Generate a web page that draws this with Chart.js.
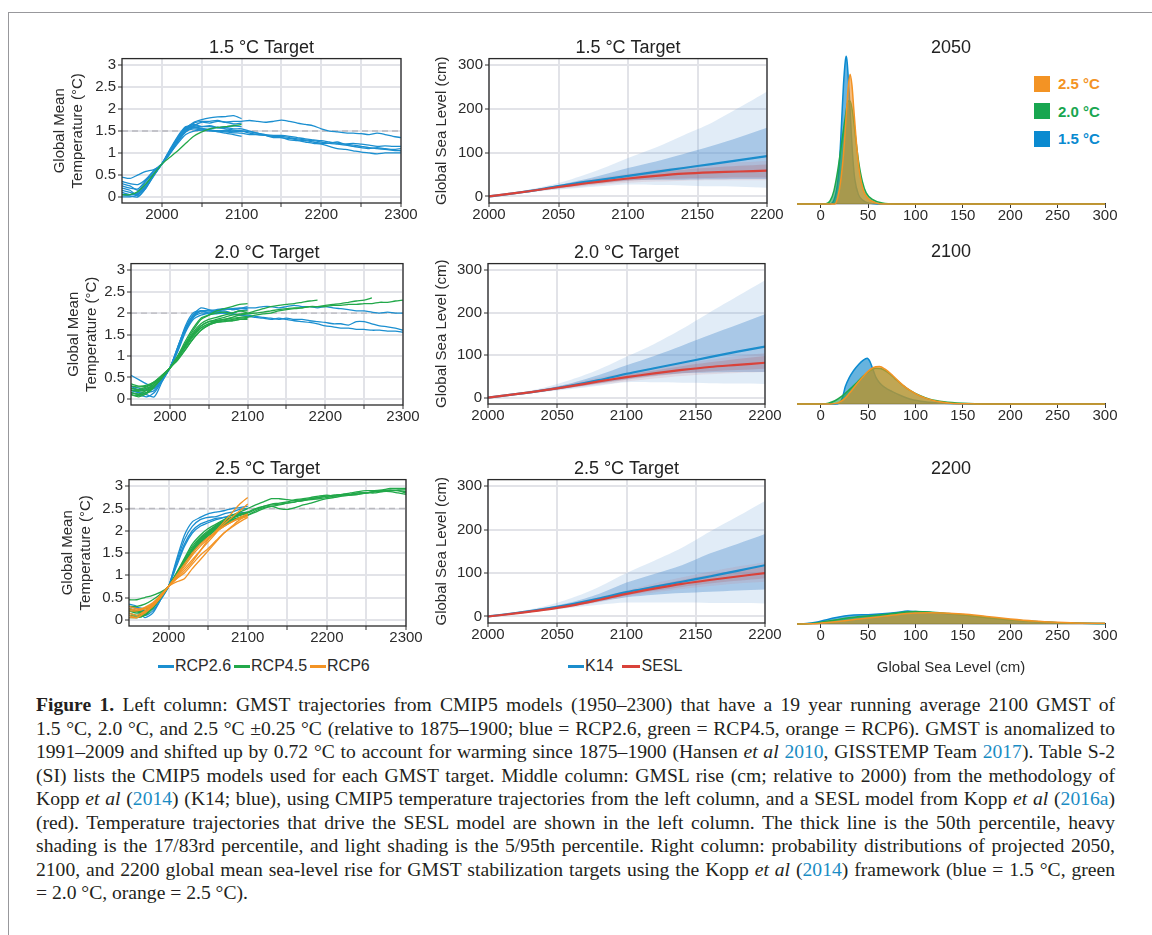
<!DOCTYPE html>
<html>
<head>
<meta charset="utf-8">
<script src="https://cdn.jsdelivr.net/npm/chart.js@4.4.0/dist/chart.umd.min.js"></script>
<style>
body { margin:0; background:#fff; width:1152px; height:935px; overflow:hidden; position:relative; font-family:"Liberation Sans", Arial, sans-serif; }
canvas { position:absolute; }
.frame { position:absolute; left:8px; top:12px; width:1300px; height:1000px; border-top:1.3px solid #98989c; border-left:1.3px solid #98989c; }
.leg { position:absolute; display:flex; align-items:center; font-size:16px; color:#2b2b2b; white-space:nowrap; }
.leg .ln { display:inline-block; width:16px; height:3px; margin-right:1px; }
.leg .it { margin-right:3px; }
.dleg { position:absolute; left:1034px; font-size:15px; font-weight:bold; }
.dleg div { height:27.5px; display:flex; align-items:center; }
.dleg .sq { display:inline-block; width:16px; height:16px; margin-right:8px; }
.cap { position:absolute; left:36px; top:693px; width:1079px; font-family:"Liberation Serif", "Times New Roman", serif; font-size:19.6px; line-height:23.5px; color:#231f20; }
.cap div { text-align:justify; text-align-last:justify; white-space:nowrap; }
.cap div.last { text-align:left; text-align-last:left; }
.cap a { color:#1a8cc4; text-decoration:none; }
</style>
</head>
<body>
<div class="frame"></div>

<div class="leg" style="left:158px;top:657px">
  <span class="ln" style="background:#1b8fd0"></span><span class="it">RCP2.6</span>
  <span class="ln" style="background:#22a84a"></span><span class="it">RCP4.5</span>
  <span class="ln" style="background:#f39324"></span><span class="it">RCP6</span>
</div>
<div class="leg" style="left:568px;top:657px">
  <span class="ln" style="background:#1b8dcc"></span><span class="it" style="margin-right:9px">K14</span>
  <span class="ln" style="background:#d9423a;width:18px"></span><span class="it">SESL</span>
</div>
<div class="dleg" style="top:70px">
  <div style="color:#f39324"><span class="sq" style="background:#f39324"></span>2.5 °C</div>
  <div style="color:#18a650"><span class="sq" style="background:#18a650"></span>2.0 °C</div>
  <div style="color:#0a8ad0"><span class="sq" style="background:#0a8ad0"></span>1.5 °C</div>
</div>

<div class="cap">
  <div><b>Figure 1.</b> Left column: GMST trajectories from CMIP5 models (1950–2300) that have a 19 year running average 2100 GMST of</div>
  <div>1.5 °C, 2.0 °C, and 2.5 °C ±0.25 °C (relative to 1875–1900; blue = RCP2.6, green = RCP4.5, orange = RCP6). GMST is anomalized to</div>
  <div>1991–2009 and shifted up by 0.72 °C to account for warming since 1875–1900 (Hansen <i>et al</i> <a>2010</a>, GISSTEMP Team <a>2017</a>). Table S-2</div>
  <div>(SI) lists the CMIP5 models used for each GMST target. Middle column: GMSL rise (cm; relative to 2000) from the methodology of</div>
  <div>Kopp <i>et al</i> (<a>2014</a>) (K14; blue), using CMIP5 temperature trajectories from the left column, and a SESL model from Kopp <i>et al</i> (<a>2016a</a>)</div>
  <div>(red). Temperature trajectories that drive the SESL model are shown in the left column. The thick line is the 50th percentile, heavy</div>
  <div>shading is the 17/83rd percentile, and light shading is the 5/95th percentile. Right column: probability distributions of projected 2050,</div>
  <div>2100, and 2200 global mean sea-level rise for GMST stabilization targets using the Kopp <i>et al</i> (<a>2014</a>) framework (blue = 1.5 °C, green</div>
  <div class="last">= 2.0 °C, orange = 2.5 °C).</div>
</div>

<script>
// ---- data ----
const decades = [1950,1960,1970,1980,1990,2000,2010,2020,2030,2040,2050,2060,2070,2080,2090,2100,
  2110,2120,2130,2140,2150,2160,2170,2180,2190,2200,2210,2220,2230,2240,2250,2260,2270,2280,2290,2300];
const targets = [1.5, 2.0, 2.5];
const tempXTicks = [2000,2050,2100,2150,2200,2250,2300];
const tempYTicks = [0,0.5,1,1.5,2,2.5,3];
const slrXTicks = [2000,2050,2100,2150,2200];
const slrYTicks = [0,100,200,300];
const densTicks = [0,50,100,150,200,250,300];

// 1.5 °C target trajectories (values every 10 years from 1950)
const t15_rcp26 = [
  [0.45,0.42,0.5,0.58,0.62,0.75,1.0,1.3,1.55,1.7,1.76,1.8,1.82,1.83,1.85,1.78],
  [0.3,0.25,0.15,0.35,0.55,0.75,1.02,1.3,1.52,1.62,1.7,1.68,1.72,1.7,1.66,1.68],
  [0.05,0.05,0.08,0.25,0.5,0.75,1.05,1.35,1.58,1.65,1.6,1.62,1.58,1.55,1.52,1.5],
  [0.2,0.15,0.02,0.2,0.48,0.75,1.08,1.38,1.6,1.6,1.56,1.52,1.48,1.45,1.42,1.38],
  [0.1,0.05,0.1,0.28,0.5,0.75,0.98,1.22,1.42,1.5,1.52,1.55,1.58,1.6,1.62,1.6],
  [0.25,0.2,0.18,0.38,0.58,0.75,1.0,1.28,1.5,1.68,1.72,1.72,1.74,1.7,1.72,1.72,
   1.74,1.72,1.7,1.72,1.75,1.72,1.68,1.65,1.62,1.55,1.5,1.48,1.46,1.45,1.44,1.42,1.45,1.42,1.38,1.35],
  [0.0,0.0,0.05,0.22,0.5,0.75,1.05,1.35,1.55,1.58,1.55,1.52,1.5,1.5,1.48,1.5,
   1.45,1.42,1.4,1.38,1.35,1.33,1.3,1.28,1.25,1.22,1.22,1.25,1.2,1.22,1.2,1.18,1.15,1.16,1.15,1.15],
  [0.15,0.1,0.05,0.25,0.52,0.75,1.0,1.3,1.5,1.55,1.52,1.5,1.5,1.48,1.46,1.45,
   1.42,1.42,1.4,1.38,1.38,1.35,1.32,1.3,1.28,1.25,1.22,1.2,1.18,1.15,1.12,1.1,1.12,1.1,1.08,1.1],
  [0.05,0.02,0.0,0.2,0.5,0.75,1.05,1.35,1.58,1.62,1.6,1.6,1.58,1.58,1.55,1.55,
   1.5,1.45,1.4,1.35,1.35,1.3,1.28,1.25,1.22,1.2,1.15,1.1,1.08,1.05,1.02,1.0,0.98,1.0,1.0,1.0],
  [0.35,0.3,0.28,0.4,0.6,0.75,0.98,1.25,1.48,1.58,1.55,1.52,1.5,1.52,1.5,1.5,
   1.48,1.45,1.42,1.4,1.4,1.38,1.35,1.32,1.3,1.28,1.25,1.22,1.2,1.18,1.15,1.12,1.1,1.08,1.06,1.05]
];
const t15_rcp45 = [
  [0.05,0.05,0.12,0.3,0.52,0.75,0.9,1.05,1.22,1.38,1.48,1.55,1.58,1.6,1.62,1.65]
];

// 2.0 °C target
const t20_rcp26 = [
  [0.55,0.45,0.35,0.3,0.5,0.72,1.2,1.65,1.95,2.12,2.08,2.05,2.08,2.1,2.12,2.1],
  [0.2,0.15,0.1,0.05,0.4,0.72,1.15,1.6,1.9,2.05,2.0,2.02,2.05,2.0,2.05,2.08],
  [0.3,0.2,0.2,0.25,0.45,0.72,1.1,1.55,1.85,1.95,2.0,2.05,2.1,2.08,2.1,2.15],
  [0.15,0.1,0.05,0.15,0.42,0.72,1.18,1.7,2.0,2.05,2.0,1.98,2.0,1.98,1.95,2.0],
  [0.25,0.2,0.25,0.3,0.5,0.72,1.12,1.6,1.9,2.05,2.05,2.08,2.1,2.08,2.1,2.12,
   2.12,2.15,2.15,2.12,2.15,2.18,2.15,2.15,2.12,2.15,2.12,2.1,2.08,2.05,2.05,2.02,2.0,2.02,2.0,2.0],
  [0.3,0.25,0.2,0.25,0.45,0.72,1.15,1.6,1.9,2.0,1.98,2.0,2.02,1.98,1.95,1.95,
   1.92,1.9,1.88,1.85,1.88,1.85,1.85,1.82,1.8,1.78,1.75,1.75,1.72,1.8,1.8,1.75,1.7,1.68,1.65,1.6],
  [0.2,0.15,0.15,0.2,0.45,0.72,1.2,1.65,1.95,2.05,2.05,2.02,2.0,1.98,1.95,1.92,
   1.9,1.88,1.85,1.88,1.85,1.82,1.8,1.78,1.75,1.7,1.68,1.65,1.65,1.62,1.62,1.6,1.6,1.58,1.58,1.55]
];
const t20_rcp45 = [
  [0.3,0.28,0.3,0.4,0.55,0.72,0.95,1.25,1.55,1.75,1.85,1.9,1.95,2.0,2.05,2.0],
  [0.2,0.2,0.25,0.35,0.55,0.72,1.0,1.3,1.6,1.85,1.95,2.05,2.1,2.15,2.2,2.22],
  [0.15,0.12,0.2,0.3,0.5,0.72,0.95,1.2,1.45,1.65,1.75,1.8,1.85,1.88,1.9,1.92],
  [0.1,0.08,0.15,0.3,0.5,0.72,0.98,1.28,1.52,1.7,1.8,1.82,1.85,1.82,1.85,1.88],
  [0.25,0.22,0.28,0.38,0.52,0.72,0.92,1.15,1.4,1.6,1.72,1.78,1.8,1.82,1.85,1.85],
  [0.35,0.3,0.32,0.4,0.55,0.72,1.0,1.35,1.65,1.88,1.95,2.0,2.02,2.0,2.05,2.05],
  [0.15,0.1,0.15,0.3,0.5,0.72,0.95,1.25,1.5,1.7,1.8,1.85,1.9,1.95,1.98,2.0,
   2.05,2.1,2.15,2.18,2.2,2.22,2.25,2.28,2.3],
  [0.2,0.18,0.22,0.35,0.52,0.72,0.95,1.22,1.48,1.65,1.75,1.82,1.85,1.9,1.95,1.98,
   2.0,2.02,2.05,2.08,2.1,2.12,2.12,2.15,2.15,2.18,2.2,2.22,2.25,2.28,2.3,2.35],
  [0.1,0.05,0.12,0.28,0.5,0.72,0.9,1.15,1.4,1.6,1.72,1.78,1.82,1.85,1.88,1.9,
   1.95,1.98,2.0,2.05,2.08,2.1,2.12,2.15,2.15,2.15,2.18,2.18,2.2,2.2,2.22,2.22,2.25,2.25,2.28,2.3]
];

// 2.5 °C target
const t25_rcp26 = [
  [0.35,0.3,0.1,0.2,0.45,0.75,1.35,1.9,2.2,2.3,2.38,2.42,2.45,2.5,2.52,2.55],
  [0.3,0.25,0.2,0.25,0.5,0.75,1.3,1.8,2.1,2.25,2.3,2.32,2.38,2.42,2.48,2.5],
  [0.25,0.2,0.05,0.15,0.45,0.75,1.25,1.7,2.0,2.15,2.22,2.28,2.3,2.35,2.4,2.42],
  [0.3,0.28,0.25,0.3,0.5,0.75,1.2,1.65,1.95,2.1,2.18,2.25,2.3,2.35,2.38,2.4]
];
const t25_rcp45 = [
  [0.45,0.45,0.5,0.55,0.62,0.75,1.0,1.3,1.6,1.8,1.95,2.1,2.2,2.3,2.35,2.4],
  [0.1,0.05,0.1,0.3,0.5,0.75,1.05,1.35,1.65,1.85,2.0,2.12,2.22,2.3,2.35,2.38],
  [0.05,0.05,0.1,0.25,0.5,0.75,1.0,1.25,1.5,1.72,1.9,2.05,2.15,2.25,2.3,2.35],
  [0.2,0.15,0.2,0.3,0.5,0.75,1.02,1.32,1.58,1.8,1.95,2.08,2.18,2.28,2.35,2.42],
  [0.3,0.3,0.35,0.45,0.58,0.75,1.05,1.38,1.7,1.9,2.05,2.15,2.25,2.35,2.42,2.5,
   2.58,2.65,2.72,2.72,2.7,2.68,2.7,2.72,2.75,2.78,2.8,2.82,2.82,2.85,2.85,2.88,2.9,2.9,2.92,2.92],
  [0.25,0.2,0.25,0.35,0.52,0.75,1.0,1.3,1.6,1.82,1.98,2.12,2.22,2.3,2.38,2.42,
   2.5,2.55,2.58,2.6,2.62,2.65,2.68,2.72,2.75,2.78,2.8,2.82,2.85,2.88,2.9,2.9,2.92,2.95,2.95,2.95],
  [0.1,0.08,0.12,0.28,0.5,0.75,1.02,1.3,1.55,1.75,1.92,2.05,2.15,2.25,2.3,2.35,
   2.45,2.52,2.55,2.5,2.48,2.52,2.58,2.62,2.68,2.72,2.75,2.78,2.8,2.82,2.85,2.88,2.88,2.9,2.9,2.88],
  [0.15,0.1,0.15,0.3,0.52,0.75,1.0,1.28,1.55,1.78,1.95,2.08,2.18,2.28,2.35,2.4,
   2.48,2.55,2.6,2.62,2.65,2.7,2.72,2.75,2.78,2.8,2.78,2.8,2.82,2.85,2.85,2.88,2.9,2.92,2.9,2.85],
  [0.2,0.18,0.2,0.32,0.52,0.75,1.0,1.28,1.52,1.72,1.88,2.02,2.12,2.22,2.28,2.35,
   2.42,2.5,2.55,2.58,2.62,2.65,2.68,2.7,2.72,2.75,2.78,2.8,2.8,2.82,2.85,2.85,2.88,2.88,2.85,2.82]
];
const t25_rcp60 = [
  [0.1,0.05,0.15,0.3,0.52,0.75,0.92,1.1,1.3,1.55,1.8,2.0,2.2,2.4,2.6,2.75],
  [0.2,0.2,0.25,0.35,0.55,0.75,0.85,0.92,1.15,1.35,1.55,1.75,1.95,2.1,2.25,2.35],
  [0.25,0.22,0.28,0.38,0.55,0.75,0.95,1.15,1.35,1.55,1.75,1.95,2.15,2.3,2.45,2.6],
  [0.15,0.1,0.2,0.32,0.52,0.75,0.98,1.2,1.45,1.65,1.82,1.98,2.1,2.2,2.28,2.32],
  [0.3,0.25,0.25,0.35,0.55,0.75,0.92,1.05,1.25,1.45,1.6,1.78,1.95,2.08,2.2,2.3],
  [0.05,0.05,0.18,0.3,0.5,0.75,1.0,1.25,1.5,1.7,1.85,1.98,2.1,2.2,2.3,2.38]
];

// sea level (cm), every 20 years 2000-2200
const slrYears = [2000,2020,2040,2060,2080,2100,2120,2140,2160,2180,2200];
const k14_15_p50 = [0,8,18,29,38,47,56,65,74,83,92];
const k14_15_p17 = [0,7,15,24,31,37,38,38,39,40,40];
const k14_15_p83 = [0,9,20,33,48,65,80,97,115,135,157];
const k14_15_p05 = [0,6,13,18,23,27,26,25,23,22,20];
const k14_15_p95 = [0,10,23,40,62,88,112,140,168,203,240];
const sesl_15_p50 = [0,8,17,26,34,41,47,52,55,57,59];
const sesl_15_p17 = [0,7,15,22,29,35,39,41,42,43,43];
const sesl_15_p83 = [0,9,19,29,39,47,55,61,66,70,73];
const sesl_15_p05 = [0,6,14,20,26,31,34,36,37,37,37];
const sesl_15_p95 = [0,10,21,32,43,52,61,68,74,78,81];

const k14_20_p50 = [0,8,17,28,41,56,69,82,95,108,120];
const k14_20_p17 = [0,7,15,24,34,44,52,57,59,60,60];
const k14_20_p83 = [0,9,20,34,53,76,98,122,147,171,196];
const k14_20_p05 = [0,6,13,20,28,36,36,35,34,33,32];
const k14_20_p95 = [0,10,23,42,66,96,126,161,200,238,276];
const sesl_20_p50 = [0,8,17,27,38,48,57,65,72,77,82];
const sesl_20_p17 = [0,7,15,24,33,42,50,57,62,65,68];
const sesl_20_p83 = [0,9,19,30,43,54,64,74,83,91,98];
const sesl_20_p05 = [0,6,14,22,30,38,45,51,55,58,60];
const sesl_20_p95 = [0,10,21,33,47,59,70,80,89,98,105];

const k14_25_p50 = [0,8,17,28,41,56,68,80,92,105,118];
const k14_25_p17 = [0,7,15,24,34,44,50,54,57,60,62];
const k14_25_p83 = [0,9,20,33,52,78,98,118,145,167,190];
const k14_25_p05 = [0,6,13,20,27,32,32,32,31,31,30];
const k14_25_p95 = [0,10,23,42,68,100,128,158,195,230,266];
const sesl_25_p50 = [0,7,15,25,38,52,64,75,84,92,100];
const sesl_25_p17 = [0,6,14,23,35,48,59,68,76,82,88];
const sesl_25_p83 = [0,8,17,28,42,57,71,84,96,106,115];
const sesl_25_p05 = [0,6,13,21,33,45,55,63,70,76,80];
const sesl_25_p95 = [0,9,18,30,45,60,76,90,103,115,125];

// probability density of GMSL (per cm), [cm, density]
const d2050_15 = [[-25,0],[10,0],[15,0.003],[18,0.01],[20,0.02],[22,0.036],[24,0.053],[26,0.064],[27,0.066],[28,0.063],[30,0.05],[32,0.034],[34,0.02],[36,0.011],[40,0.004],[45,0.0015],[50,0.0005],[60,0],[300,0]];
const d2050_20 = [[-25,0],[5,0],[10,0.0015],[14,0.006],[18,0.015],[22,0.027],[26,0.039],[29,0.046],[31,0.046],[34,0.04],[37,0.029],[40,0.019],[44,0.01],[48,0.005],[55,0.002],[65,0.0004],[80,0],[300,0]];
const d2050_25 = [[-25,0],[15,0],[18,0.003],[21,0.01],[24,0.022],[27,0.04],[29,0.052],[31,0.058],[33,0.053],[35,0.042],[38,0.026],[41,0.014],[45,0.006],[50,0.0025],[58,0.0005],[65,0],[300,0]];
const d2100_15 = [[-25,0],[15,0],[20,0.0005],[23,0.003],[26,0.008],[30,0.012],[35,0.0155],[40,0.0182],[45,0.0202],[49,0.021],[52,0.0195],[55,0.016],[58,0.0125],[62,0.0098],[68,0.0075],[75,0.0058],[85,0.0038],[95,0.0022],[110,0.001],[130,0.0003],[160,0],[300,0]];
const d2100_20 = [[-25,0],[0,0],[8,0.0004],[15,0.0015],[22,0.0035],[30,0.0065],[38,0.0098],[45,0.0128],[52,0.0152],[58,0.0164],[63,0.0163],[70,0.0148],[78,0.0118],[86,0.0088],[95,0.006],[105,0.0038],[115,0.0022],[130,0.001],[150,0.0003],[175,0],[300,0]];
const d2100_25 = [[-25,0],[10,0],[18,0.0005],[24,0.002],[30,0.0048],[38,0.0092],[45,0.0128],[52,0.0158],[58,0.0171],[62,0.0172],[68,0.016],[75,0.0135],[82,0.0105],[90,0.0075],[100,0.0048],[110,0.0028],[122,0.0013],[137,0.0004],[155,0.0001],[175,0],[300,0]];
const d2200_15 = [[-25,0],[-15,0.0002],[-5,0.0008],[5,0.0018],[15,0.0028],[25,0.0036],[35,0.004],[50,0.0042],[65,0.0046],[80,0.0052],[92,0.0058],[100,0.0056],[115,0.0052],[135,0.0045],[155,0.0038],[180,0.0026],[200,0.0018],[225,0.0011],[250,0.0006],[275,0.0003],[300,0.0002]];
const d2200_20 = [[-25,0],[-10,0.0002],[0,0.0008],[15,0.0018],[30,0.0028],[50,0.0036],[70,0.0044],[90,0.0054],[100,0.0056],[115,0.0054],[135,0.0047],[155,0.0039],[180,0.0027],[200,0.0019],[225,0.0011],[250,0.0006],[275,0.0003],[300,0.0002]];
const d2200_25 = [[-25,0],[-10,0.0001],[0,0.0004],[20,0.0012],[40,0.0022],[60,0.0032],[80,0.0042],[100,0.0049],[115,0.0051],[130,0.005],[150,0.0045],[175,0.0034],[200,0.0023],[225,0.0014],[250,0.0008],[275,0.0004],[300,0.0003]];

// ---- drawing ----
const FONT = '"Liberation Sans", Arial, sans-serif';
Chart.defaults.font.family = FONT;
Chart.defaults.color = '#2b2b2b';

const C26 = '#1b8fd0', C45 = '#22a84a', C60 = '#f39324';
const GRID = '#e2e3e8';

const boxPlugin = {
  id: 'box',
  afterDatasetsDraw(ch) {
    const a = ch.chartArea, c = ch.ctx;
    c.save();
    c.strokeStyle = '#2a2a2a';
    c.lineWidth = 1.3;
    c.strokeRect(a.left, a.top, a.right - a.left, a.bottom - a.top);
    c.restore();
  }
};

function mkCanvas(p) {
  const top = Math.round(p.titleY - 10.8);
  p.topH = p.T - top;
  const c = document.createElement('canvas');
  c.width = Math.round(p.R - p.L + p.yW + p.padR);
  c.height = Math.round(p.topH + p.B - p.T + p.botH);
  c.style.left = (p.L - p.yW) + 'px';
  c.style.top = top + 'px';
  document.body.appendChild(c);
  return c;
}

function baseOpts(p, title) {
  return {
    responsive: false, animation: false, devicePixelRatio: 1,
    layout: { padding: { left: 0, right: p.padR, top: 0, bottom: 0 } },
    plugins: {
      legend: { display: false }, tooltip: { enabled: false },
      title: { display: true, text: title, fullSize: false, color: '#222',
               font: { size: 18, weight: 'normal' }, padding: { top: 0, bottom: p.topH - 21.6 } }
    }
  };
}

function xScale(p, min, max, list, labelFn) {
  return {
    type: 'linear', min: min, max: max,
    afterBuildTicks: s => { s.ticks = list.map(v => ({ value: v })); },
    afterFit: s => { s.height = p.botH; s.paddingLeft = 0; s.paddingRight = 0; },
    ticks: { autoSkip: false, maxRotation: 0, padding: -1, font: { size: 15 }, color: '#2b2b2b',
             callback: labelFn },
    grid: { color: GRID, lineWidth: 2, tickColor: '#333', tickLength: 4, tickWidth: 1 },
    border: { display: false }
  };
}

function yScale(p, min, max, list, title) {
  return {
    min: min, max: max,
    afterBuildTicks: s => { s.ticks = list.map(v => ({ value: v })); },
    afterFit: s => { s.width = p.yW; s.paddingTop = 0; s.paddingBottom = 0; },
    title: { display: true, text: title, color: '#2b2b2b', font: { size: 15, lineHeight: 1.25 },
             padding: { top: 2, bottom: 0 } },
    ticks: { padding: 2, font: { size: 15 }, color: '#2b2b2b', callback: v => String(v) },
    grid: { color: GRID, lineWidth: 2, tickColor: '#333', tickLength: 4, tickWidth: 1 },
    border: { display: false }
  };
}

function line(vals, color) {
  return {
    data: vals.map((v, i) => ({ x: decades[i], y: v })),
    borderColor: color, borderWidth: 1.3, pointRadius: 0, tension: 0.25, fill: false
  };
}

const posTemp = [
  { L: 122, T: 63, R: 401, B: 203, titleY: 48, yW: 74, padR: 25, botH: 28 },
  { L: 131, T: 272, R: 403, B: 405, titleY: 253, yW: 69, padR: 25, botH: 28 },
  { L: 129, T: 488, R: 406, B: 626, titleY: 469, yW: 73, padR: 20, botH: 28 }
];
const posSlr = [
  { L: 489, T: 66, R: 767, B: 203, titleY: 48, yW: 59, padR: 20, botH: 28 },
  { L: 488, T: 267, R: 765, B: 404, titleY: 253, yW: 58, padR: 20, botH: 28 },
  { L: 488, T: 485, R: 765, B: 623, titleY: 469, yW: 58, padR: 20, botH: 28 }
];
const posDens = [
  { L: 797, T: 64, R: 1105, B: 204, titleY: 48, yW: 0, padR: 20, botH: 28 },
  { L: 797, T: 264, R: 1105, B: 404, titleY: 252, yW: 0, padR: 20, botH: 28 },
  { L: 797, T: 484, R: 1105, B: 624, titleY: 469, yW: 0, padR: 20, botH: 55 }
];

// left column
const tempSets = [
  { rcp26: t15_rcp26, rcp45: t15_rcp45, rcp60: [] },
  { rcp26: t20_rcp26, rcp45: t20_rcp45, rcp60: [] },
  { rcp26: t25_rcp26, rcp45: t25_rcp45, rcp60: t25_rcp60 }
];
tempSets.forEach((s, k) => {
  const p = posTemp[k];
  const ds = [];
  s.rcp60.forEach(v => ds.push(line(v, C60)));
  s.rcp45.forEach(v => ds.push(line(v, C45)));
  s.rcp26.forEach(v => ds.push(line(v, C26)));
  ds.push({ data: [{ x: 1950, y: targets[k] }, { x: 2300, y: targets[k] }], borderColor: '#b9b9be',
            borderWidth: 1.3, borderDash: [6, 4], pointRadius: 0 });
  const o = baseOpts(p, targets[k].toFixed(1) + ' °C Target');
  o.plugins.title.padding.left = 12;
  o.scales = {
    x: xScale(p, 1950, 2300, tempXTicks, v => (v % 100 === 0 ? String(v) : '')),
    y: yScale(p, -0.14, 3.15, tempYTicks, ['Global Mean', 'Temperature (°C)'])
  };
  new Chart(mkCanvas(p), { type: 'line', data: { datasets: ds }, options: o, plugins: [boxPlugin] });
});

// middle column
const slrSets = [
  [k14_15_p50, k14_15_p17, k14_15_p83, k14_15_p05, k14_15_p95, sesl_15_p50, sesl_15_p17, sesl_15_p83, sesl_15_p05, sesl_15_p95],
  [k14_20_p50, k14_20_p17, k14_20_p83, k14_20_p05, k14_20_p95, sesl_20_p50, sesl_20_p17, sesl_20_p83, sesl_20_p05, sesl_20_p95],
  [k14_25_p50, k14_25_p17, k14_25_p83, k14_25_p05, k14_25_p95, sesl_25_p50, sesl_25_p17, sesl_25_p83, sesl_25_p05, sesl_25_p95]
];
function sl(vals, extra) {
  return Object.assign({ data: vals.map((v, i) => ({ x: slrYears[i], y: v })), pointRadius: 0,
                         borderWidth: 0, fill: false, tension: 0.3 }, extra);
}
slrSets.forEach((s, k) => {
  const p = posSlr[k];
  const [k50, k17, k83, k05, k95, s50, s17, s83, s05, s95] = s;
  const ds = [
    sl(s50, { borderColor: '#d9423a', borderWidth: 2.2 }),
    sl(k50, { borderColor: '#1b8dcc', borderWidth: 2.2 }),
    sl(s83, { fill: '+1', backgroundColor: 'rgba(170,95,110,0.26)' }),
    sl(s17, {}),
    sl(s95, { fill: '+1', backgroundColor: 'rgba(200,120,130,0.16)' }),
    sl(s05, {}),
    sl(k83, { fill: '+1', backgroundColor: 'rgba(90,150,210,0.42)' }),
    sl(k17, {}),
    sl(k95, { fill: '+1', backgroundColor: 'rgba(120,170,220,0.22)' }),
    sl(k05, {})
  ];
  const o = baseOpts(p, targets[k].toFixed(1) + ' °C Target');
  o.scales = {
    x: xScale(p, 2000, 2200, slrXTicks, v => String(v)),
    y: yScale(p, -15, 315, slrYTicks, 'Global Sea Level (cm)')
  };
  new Chart(mkCanvas(p), { type: 'line', data: { datasets: ds }, options: o, plugins: [boxPlugin] });
});

// right column
const densSets = [
  { year: '2050', d15: d2050_15, d20: d2050_20, d25: d2050_25 },
  { year: '2100', d15: d2100_15, d20: d2100_20, d25: d2100_25 },
  { year: '2200', d15: d2200_15, d20: d2200_20, d25: d2200_25 }
];
function dens(pairs, line, fill) {
  return { data: pairs.map(q => ({ x: q[0], y: q[1] })), borderColor: line, backgroundColor: fill,
           borderWidth: 1.5, pointRadius: 0, fill: 'origin', cubicInterpolationMode: 'monotone', clip: false };
}
densSets.forEach((s, k) => {
  const p = posDens[k];
  const ds = [
    dens(s.d25, '#f39324', 'rgba(240,145,40,0.6)'),
    dens(s.d20, '#1ea84c', 'rgba(30,160,80,0.6)'),
    dens(s.d15, '#0a8ad0', 'rgba(0,128,200,0.6)')
  ];
  const o = baseOpts(p, s.year);
  o.scales = {
    x: {
      type: 'linear', min: -25, max: 300,
      afterBuildTicks: sc => { sc.ticks = densTicks.map(v => ({ value: v })); },
      afterFit: sc => { sc.height = p.botH; sc.paddingLeft = 0; sc.paddingRight = 0; },
      ticks: { autoSkip: false, maxRotation: 0, padding: -1, font: { size: 15 }, color: '#2b2b2b' },
      grid: { drawOnChartArea: false, tickColor: '#333', tickLength: 4, tickWidth: 1 },
      border: { display: true, color: '#333', width: 1.2 },
      title: { display: k === 2, text: 'Global Sea Level (cm)', color: '#2b2b2b', font: { size: 15 },
               padding: { top: 0, bottom: 2.6 } }
    },
    y: { display: false, min: 0, max: 0.065 }
  };
  new Chart(mkCanvas(p), { type: 'line', data: { datasets: ds }, options: o });
});
</script>
</body>
</html>
